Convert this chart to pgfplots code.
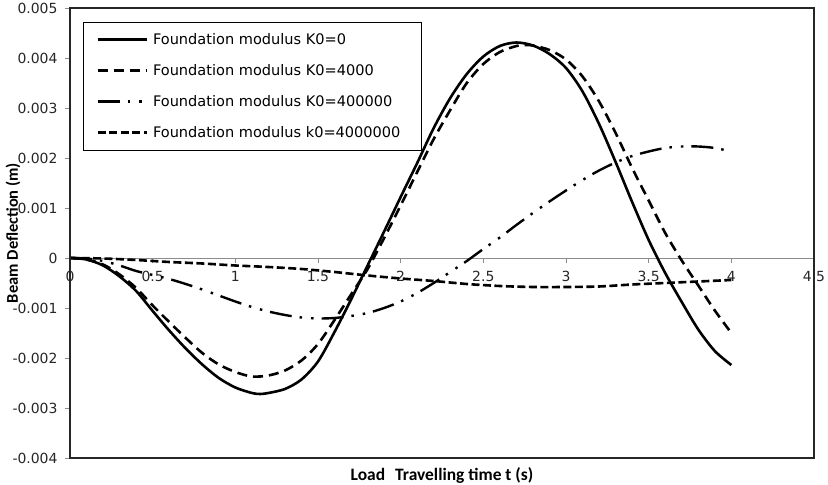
\documentclass[border=0pt]{standalone}
\usepackage{fontspec}
\setmainfont{DejaVu Sans}
\newfontfamily\carlito{Carlito}
\usepackage{pgfplots}
\pgfplotsset{compat=1.18}
\usetikzlibrary{calc}

\begin{document}
\begin{tikzpicture}
\begin{axis}[
  scale only axis, width=744bp, height=450bp,
  xmin=0, xmax=4.5, ymin=-0.004, ymax=0.005,
  axis x line=middle, axis y line=left,
  axis line style={-},
  x axis line style={draw=black!45, line width=0.8bp},
  y axis line style={draw=black, line width=1.5bp},
  hide obscured x ticks=false,
  xtick={0,0.5,1,1.5,2,2.5,3,3.5,4,4.5},
  xticklabels={0,0.5,1,1.5,2,2.5,3,3.5,4,4.5},
  ytick={-0.004,-0.003,-0.002,-0.001,0,0.001,0.002,0.003,0.004,0.005},
  yticklabels={-0.004,-0.003,-0.002,-0.001,0,0.001,0.002,0.003,0.004,0.005},
  scaled y ticks=false, scaled x ticks=false,
  tick align=outside, major tick length=5bp,
  tick style={draw=black!45, line width=0.8bp},
  ticklabel style={font=\fontsize{14}{16}\selectfont, text=black!85},
  xticklabel style={yshift=-5bp},
  yticklabel style={xshift=-4bp},
  xlabel={\carlito\bfseries Load\hspace{0.35em} Travelling time t (s)},
  ylabel={\carlito\bfseries Beam Deflection (m)},
  every axis x label/.style={at={(axis description cs:0.5,-0.038)}, anchor=center, font=\fontsize{17.5}{20}\selectfont},
  every axis y label/.style={at={(axis description cs:-0.0766,0.5)}, rotate=90, anchor=center, font=\fontsize{16.5}{19}\selectfont},
  legend style={at={(rel axis cs:0.0175,0.969)}, anchor=north west, draw=black, line width=0.8bp,
    font=\fontsize{14.6}{17}\selectfont, row sep=14.5bp, inner xsep=13bp, inner ysep=9bp,
    /tikz/every even column/.append style={column sep=0bp},
    /tikz/every odd column/.append style={column sep=3bp}},
  legend cell align=left,
  legend image code/.code={\draw[#1] (0bp,0bp) -- (49bp,0bp);},
]
\addplot[black, line width=2.6bp, smooth] table {
0 0
0.1 -0.00003
0.2 -0.00015
0.3 -0.00037
0.4 -0.00066
0.5 -0.00106
0.6 -0.00145
0.7 -0.00181
0.8 -0.00213
0.9 -0.0024
1.0 -0.00259
1.1 -0.0027
1.15 -0.00272
1.2 -0.0027
1.3 -0.00262
1.4 -0.00243
1.5 -0.00207
1.6 -0.00148
1.7 -0.00083
1.8 -0.00015
1.9 0.00053
2.0 0.00122
2.1 0.0019
2.2 0.0026
2.3 0.0032
2.4 0.00368
2.5 0.00403
2.6 0.00424
2.7 0.00431
2.8 0.00425
2.9 0.00408
3.0 0.0038
3.1 0.00333
3.2 0.00268
3.3 0.00192
3.4 0.00112
3.5 0.00036
3.6 -0.0003
3.7 -0.00088
3.8 -0.00143
3.9 -0.00186
4.0 -0.00214
};
\addlegendentry{Foundation modulus K0=0}
\addplot[black, line width=2.6bp, smooth, dash pattern=on 10bp off 6bp] table {
0 0
0.1 -0.00003
0.2 -0.00013
0.3 -0.00033
0.4 -0.0006
0.5 -0.00095
0.6 -0.00128
0.7 -0.0016
0.8 -0.0019
0.9 -0.00213
1.0 -0.00228
1.1 -0.00237
1.2 -0.00235
1.3 -0.00225
1.4 -0.00205
1.5 -0.00172
1.6 -0.00124
1.7 -0.00073
1.8 -0.00022
1.9 0.0004
2.0 0.00105
2.1 0.00172
2.2 0.00238
2.3 0.00296
2.4 0.0035
2.5 0.00388
2.6 0.00412
2.7 0.00424
2.75 0.00426
2.8 0.00425
2.9 0.00416
3.0 0.00397
3.1 0.00363
3.2 0.00313
3.3 0.0025
3.4 0.0018
3.5 0.00115
3.6 0.0005
3.7 -0.00005
3.8 -0.00055
3.9 -0.00105
4.0 -0.0015
};
\addlegendentry{Foundation modulus K0=4000}
\addplot[black, line width=2.4bp, smooth, dash pattern=on 22bp off 8bp on 2.5bp off 9bp on 2.5bp off 8bp] table {
0 0
0.1 -0.00001
0.2 -0.00006
0.3 -0.00015
0.4 -0.00026
0.5 -0.00034
0.6 -0.00042
0.7 -0.00052
0.8 -0.00063
0.9 -0.00075
1.0 -0.00087
1.1 -0.00098
1.2 -0.00107
1.3 -0.00114
1.4 -0.00119
1.5 -0.00121
1.6 -0.0012
1.7 -0.00116
1.8 -0.0011
1.9 -0.001
2.0 -0.00087
2.1 -0.0007
2.2 -0.0005
2.3 -0.00028
2.4 -0.00006
2.5 0.00018
2.6 0.00041
2.7 0.00066
2.8 0.0009
2.9 0.00113
3.0 0.00135
3.1 0.00156
3.2 0.00175
3.3 0.00191
3.4 0.00204
3.5 0.00213
3.6 0.0022
3.7 0.00223
3.8 0.00223
3.9 0.0022
4.0 0.00213
};
\addlegendentry{Foundation modulus K0=400000}
\addplot[black, line width=2.6bp, smooth, dash pattern=on 8bp off 3.5bp] table {
0 0
0.2 -0.00001
0.4 -0.00004
0.6 -0.00008
0.8 -0.00011
1.0 -0.00015
1.2 -0.00018
1.4 -0.00022
1.6 -0.00028
1.8 -0.00035
2.0 -0.00041
2.2 -0.00046
2.4 -0.00052
2.6 -0.00056
2.8 -0.00058
3.0 -0.00058
3.2 -0.00057
3.4 -0.00053
3.6 -0.0005
3.8 -0.00047
4.0 -0.00044
};
\addlegendentry{Foundation modulus k0=4000000\hspace*{6bp}}
\end{axis}
\draw[black!85, line width=1.8bp] (current axis.south west) rectangle (current axis.north east);
\pgfresetboundingbox
\path ($(current axis.south west)+(-70bp,-27bp)$) rectangle ($(current axis.north east)+(14bp,8bp)$);
\end{tikzpicture}
\end{document}
